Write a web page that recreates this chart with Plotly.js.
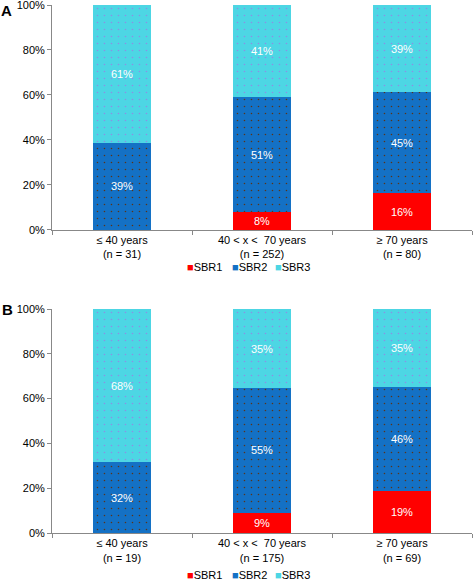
<!DOCTYPE html>
<html>
<head>
<meta charset="utf-8">
<script src="https://cdn.plot.ly/plotly-3.0.1.min.js"></script>
<style>html,body{margin:0;padding:0;background:#fff;}#chart{width:473px;height:581px;}</style>
</head>
<body>
<div id="chart"></div>
<script>
var categoriesA = ["≤ 40 years<br>(n = 31)", "40 < x <  70 years<br>(n = 252)", "≥ 70 years<br>(n = 80)"];
var categoriesB = ["≤ 40 years<br>(n = 19)", "40 < x <  70 years<br>(n = 175)", "≥ 70 years<br>(n = 69)"];
var sbr1A = [0, 7.94, 16.25];
var sbr2A = [38.71, 51.19, 45.0];
var sbr3A = [61.29, 40.87, 38.75];
var sbr1B = [0, 9.14, 18.84];
var sbr2B = [31.58, 55.43, 46.38];
var sbr3B = [68.42, 35.43, 34.78];
var seriesNames = ["SBR1", "SBR2", "SBR3"];
var yTickVals = [0, 20, 40, 60, 80, 100];
var yTickText = ["0%", "20%", "40%", "60%", "80%", "100%"];

var colors = ["#FF0000", "#1471C5", "#4DD6E4"];
var patternFg = [null, "#5a3418", "#8c8ee6"];
function lbl(arr){ return arr.map(function(v){ return v > 0 ? Math.round(v) + "%" : ""; }); }

function mk(cats, vals, i, xa, ya){
  var m = {color: colors[i], line: {width: 0}};
  if (patternFg[i]) m.pattern = {shape: ".", fgcolor: patternFg[i], bgcolor: colors[i], size: 7, solidity: 0.04, fillmode: "replace"};
  return {
    type: "bar", x: cats, y: vals, name: seriesNames[i],
    xaxis: xa, yaxis: ya, showlegend: false,
    marker: m, width: 0.41,
    text: lbl(vals), textposition: "inside", insidetextanchor: "middle",
    textfont: {color: "#ffffff", size: 11, family: "Liberation Sans, Arial, sans-serif"},
    hoverinfo: "none"
  };
}
var dataA = [sbr1A, sbr2A, sbr3A];
var dataB = [sbr1B, sbr2B, sbr3B];
var traces = [];
for (var i = 0; i < 3; i++) traces.push(mk(categoriesA, dataA[i], i, "x", "y"));
for (var i = 0; i < 3; i++) traces.push(mk(categoriesB, dataB[i], i, "x2", "y2"));

var font = {family: "Liberation Sans, Arial, sans-serif", size: 11, color: "#000"};
function yax(dom, anchor){
  return {domain: dom, anchor: anchor, range: [0, 100], tickvals: yTickVals, ticktext: yTickText,
    showgrid: false, zeroline: false, showline: true, linecolor: "#888", linewidth: 1,
    ticks: "outside", ticklen: 4, tickcolor: "#888", tickfont: font, fixedrange: true,
    ticklabeloverflow: "allow"};
}
function xax(anchor){
  return {anchor: anchor, showgrid: false, showline: true, linecolor: "#888", linewidth: 1,
    ticks: "outside", tickson: "boundaries", ticklen: 4, tickcolor: "#888", tickfont: font,
    range: [-0.5, 2.5], fixedrange: true};
}
var legFont = {family: "Liberation Sans, Arial, sans-serif", size: 11, color: "#000"};
var legendX = [0.319, 0.426, 0.529];
var annotations = [
  {text: "<b>A</b>", xref: "paper", yref: "paper", x: -0.124, y: 1.0085, xanchor: "left", yanchor: "top",
   showarrow: false, borderpad: 0, font: {family: "Liberation Sans, Arial, sans-serif", size: 15, color: "#000"}},
  {text: "<b>B</b>", xref: "paper", yref: "paper", x: -0.124, y: 0.4242, xanchor: "left", yanchor: "middle",
   showarrow: false, font: {family: "Liberation Sans, Arial, sans-serif", size: 15, color: "#000"}}
];
[0.504, -0.0795].forEach(function(yy){
  seriesNames.forEach(function(n, i){
    annotations.push({text: '<span style="color:' + colors[i] + '">■</span>' + n,
      xref: "paper", yref: "paper", x: legendX[i], y: yy, xanchor: "left", yanchor: "middle",
      showarrow: false, borderpad: 0, font: legFont});
  });
});
var layout = {
  width: 473, height: 581,
  margin: {l: 52, r: 1, t: 5, b: 48},
  paper_bgcolor: "#fff", plot_bgcolor: "#fff",
  barmode: "stack", font: font, showlegend: false,
  xaxis: xax("y"), yaxis: yax([0.574, 1], "x"),
  xaxis2: xax("y2"), yaxis2: yax([0, 0.4242], "x2"),
  annotations: annotations
};
Plotly.newPlot("chart", traces, layout, {displayModeBar: false, staticPlot: true});
</script>
</body>
</html>
